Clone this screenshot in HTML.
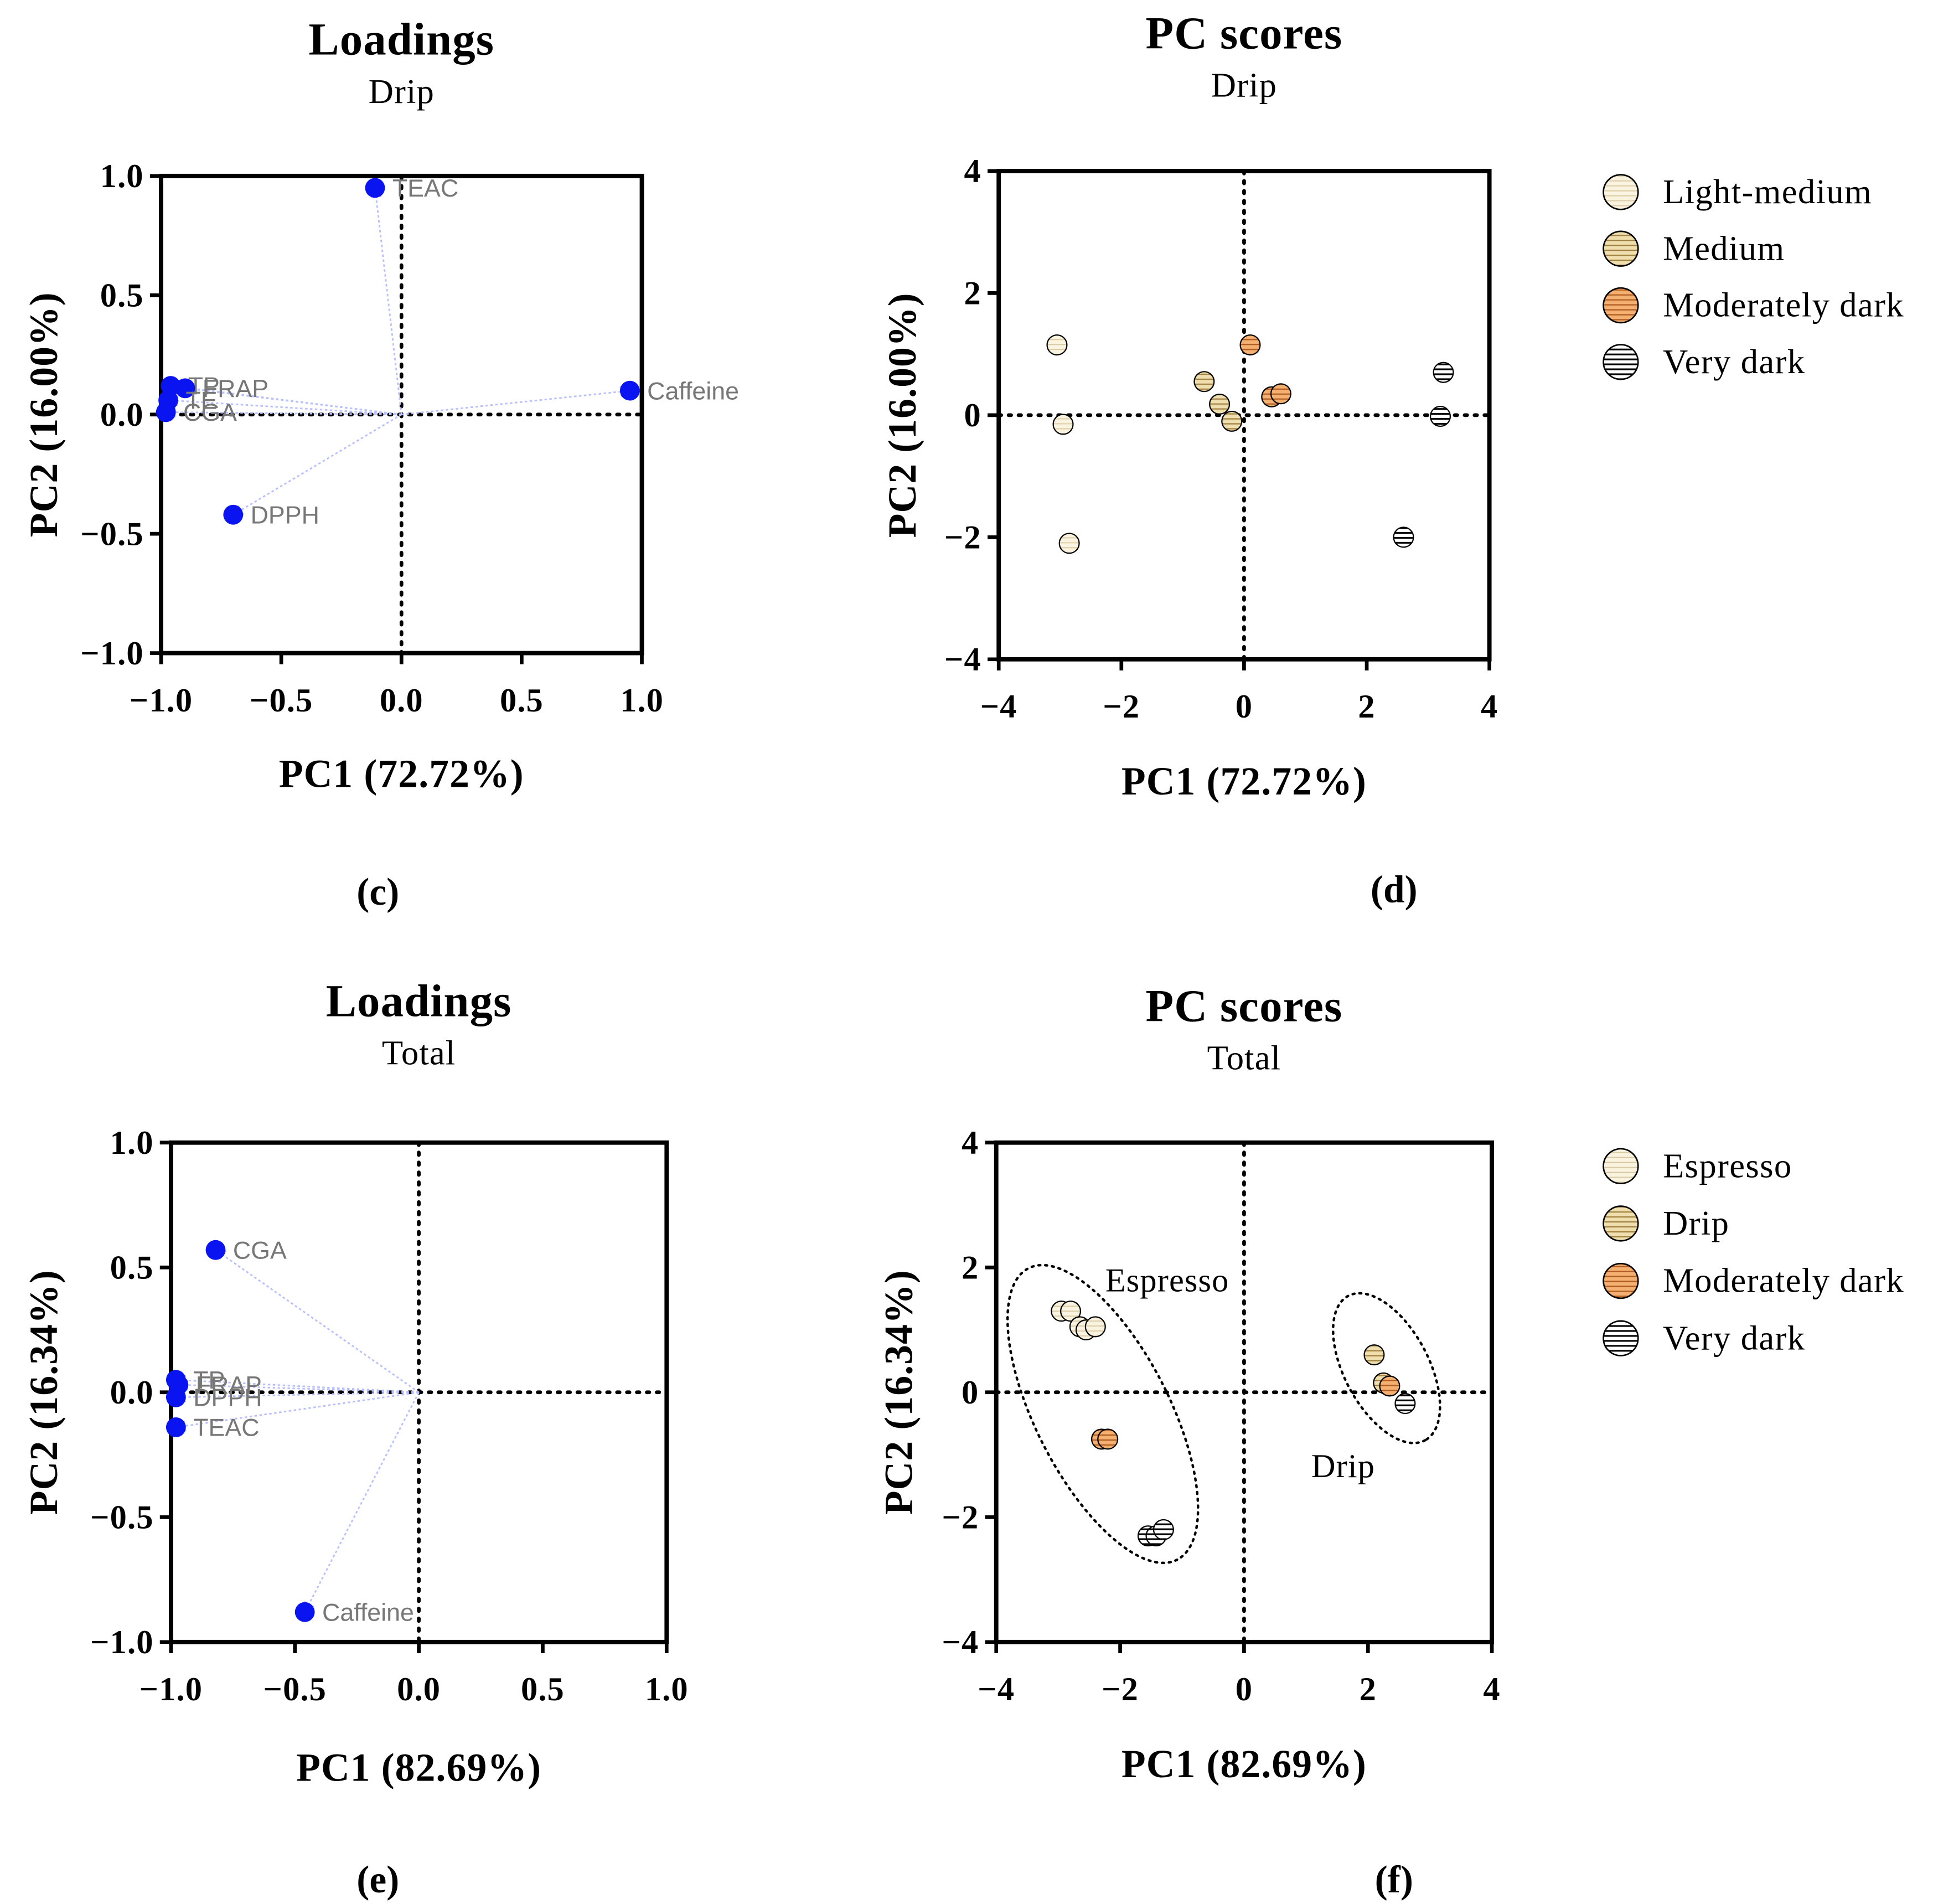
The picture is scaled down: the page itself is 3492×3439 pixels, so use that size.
<!DOCTYPE html>
<html><head><meta charset="utf-8"><style>
html,body{margin:0;padding:0;background:#fff}
svg{display:block}
</style></head><body>
<svg id="fig" width="3492" height="3439" viewBox="0 0 1560 1536.4" preserveAspectRatio="none" xmlns="http://www.w3.org/2000/svg">
<defs>
<pattern id="p-lm" width="4" height="4" patternUnits="userSpaceOnUse"><rect width="4" height="4" fill="#faf3e0"/><line x1="0" y1="2" x2="4" y2="2" stroke="#d8c8a0" stroke-width="0.8"/></pattern>
<pattern id="p-md" width="4" height="4" patternUnits="userSpaceOnUse"><rect width="4" height="4" fill="#f0dfae"/><line x1="0" y1="2" x2="4" y2="2" stroke="#a08040" stroke-width="1"/></pattern>
<pattern id="p-dk" width="4" height="4" patternUnits="userSpaceOnUse"><rect width="4" height="4" fill="#f3b070"/><line x1="0" y1="2" x2="4" y2="2" stroke="#b05a20" stroke-width="1"/></pattern>
<pattern id="p-vd" width="4" height="4" patternUnits="userSpaceOnUse"><rect width="4" height="4" fill="#fff"/><line x1="0" y1="2" x2="4" y2="2" stroke="#000" stroke-width="1.4"/></pattern>
<marker id="arr" markerWidth="8" markerHeight="8" refX="6" refY="4" orient="auto"><path d="M0,1 L6,4 L0,7" fill="none" stroke="#b8c0ff" stroke-width="1"/></marker>
</defs>
</svg>
<script>
// ---- data ----
const loadCNames = ["TEAC","Caffeine","TP","FRAP","TE","CGA","DPPH"];
const loadCX = [-0.11,0.95,-0.96,-0.90,-0.97,-0.98,-0.70];
const loadCY = [0.95,0.10,0.12,0.11,0.06,0.01,-0.42];
const loadENames = ["CGA","TP","FRAP","DPPH","TEAC","Caffeine"];
const loadEX = [-0.82,-0.98,-0.97,-0.98,-0.98,-0.46];
const loadEY = [0.57,0.05,0.03,-0.02,-0.14,-0.88];
const loadTicks = [-1.0,-0.5,0.0,0.5,1.0];
const scoreTicks = [-4,-2,0,2,4];
const scoreDGroup = [0,0,0,1,1,1,2,2,2,3,3,3];
const scoreDX = [-3.05,-2.95,-2.85,-0.65,-0.4,-0.2,0.1,0.45,0.6,3.25,3.2,2.6];
const scoreDY = [1.15,-0.15,-2.1,0.55,0.18,-0.1,1.15,0.3,0.35,0.7,-0.02,-2.0];
const scoreFGroup = [0,0,0,0,0,2,2,3,3,3,1,1,2,3];
const scoreFX = [-2.95,-2.8,-2.65,-2.55,-2.4,-2.3,-2.2,-1.55,-1.42,-1.3,2.1,2.25,2.35,2.6];
const scoreFY = [1.3,1.3,1.05,1.0,1.05,-0.75,-0.75,-2.3,-2.3,-2.2,0.6,0.15,0.1,-0.18];
const legendD = ["Light-medium","Medium","Moderately dark","Very dark"];
const legendF = ["Espresso","Drip","Moderately dark","Very dark"];
const fills = ["url(#p-lm)","url(#p-md)","url(#p-dk)","url(#p-vd)"];

const svg=document.getElementById('fig');
const NS="http://www.w3.org/2000/svg";
function mk(tag,attrs,parent){const e=document.createElementNS(NS,tag);for(const k in attrs)e.setAttribute(k,attrs[k]);(parent||svg).appendChild(e);return e;}
function txt(s,x,y,size,opts,parent){const e=mk('text',Object.assign({x:x,y:y,'font-size':size,'text-anchor':'middle','font-family':'"Liberation Serif",serif'},opts||{}),parent);e.textContent=s;return e;}
function fmt(v,dec){let s=v.toFixed(dec);if(v<0)s='\u2212'+s.slice(1);return s;}

function panel(cfg){
  const g=mk('g',{});
  
  
  const sx=v=>cfg.x0+(v-cfg.min)/(cfg.max-cfg.min)*(cfg.x1-cfg.x0);
  const sy=v=>cfg.y1-(v-cfg.min)/(cfg.max-cfg.min)*(cfg.y1-cfg.y0);
  let t=txt(cfg.title,(cfg.x0+cfg.x1)/2,cfg.titleY+2,37,{'font-weight':'bold','letter-spacing':'0.5'},g);
  
  t=txt(cfg.sub,(cfg.x0+cfg.x1)/2,cfg.titleY+41,28,{'letter-spacing':'0.5'},g);
  
  mk('line',{x1:sx(0),y1:cfg.y0,x2:sx(0),y2:cfg.y1,stroke:'#000','stroke-width':3,'stroke-dasharray':'2 6','stroke-linecap':'round'},g);
  mk('line',{x1:cfg.x0,y1:sy(0),x2:cfg.x1,y2:sy(0),stroke:'#000','stroke-width':3,'stroke-dasharray':'2 6','stroke-linecap':'round'},g);
  const box=mk('rect',{x:cfg.x0,y:cfg.y0,width:cfg.x1-cfg.x0,height:cfg.y1-cfg.y0,fill:'none',stroke:'#000','stroke-width':3.5},g);
  
  cfg.ticks.forEach(v=>{
    mk('line',{x1:sx(v),y1:cfg.y1,x2:sx(v),y2:cfg.y1+9,stroke:'#000','stroke-width':3},g);
    const a=txt(fmt(v,cfg.dec),sx(v),cfg.y1+47,27,{'font-weight':'bold','letter-spacing':'0.5'},g);
    
    mk('line',{x1:cfg.x0-9,y1:sy(v),x2:cfg.x0,y2:sy(v),stroke:'#000','stroke-width':3},g);
    const b=txt(fmt(v,cfg.dec),cfg.x0-14,sy(v)+9,27,{'font-weight':'bold','text-anchor':'end','letter-spacing':'0.5'},g);
    
  });
  t=txt(cfg.xt,(cfg.x0+cfg.x1)/2,cfg.xtY,32,{'font-weight':'bold','letter-spacing':'0.5'},g);
  
  const yc=(cfg.y0+cfg.y1)/2;
  t=txt(cfg.yt,cfg.ytX,yc,32,{'font-weight':'bold','letter-spacing':'0.5',transform:`rotate(-90 ${cfg.ytX} ${yc})`},g);
  
  t=txt(cfg.letter,cfg.letterX,cfg.letterY,31,{'font-weight':'bold'},g);
  
  return {g,sx,sy};
}

function loadings(cfg,names,xs,ys){
  const p=panel(cfg);
  names.forEach((n,i)=>{
    const l=mk('line',{x1:p.sx(0),y1:p.sy(0),x2:p.sx(xs[i]),y2:p.sy(ys[i]),stroke:'#b8c0ff','stroke-width':1.3,'stroke-dasharray':'2 2','marker-end':'url(#arr)'},p.g);
    
    
  });
  names.forEach((n,i)=>{
    const c=mk('circle',{cx:p.sx(xs[i]),cy:p.sy(ys[i]),r:8,fill:'#0a14f0'},p.g);
    
    
    const t=txt(n,p.sx(xs[i])+14,p.sy(ys[i])+7,20,{'text-anchor':'start','font-family':'"Liberation Sans",sans-serif',fill:'#777'},p.g);
    
    
  });
}

function scores(cfg,grp,xs,ys,legend,legX,legY0,legDy){
  const p=panel(cfg);
  xs.forEach((x,i)=>{
    const c=mk('circle',{cx:p.sx(x),cy:p.sy(ys[i]),r:8,fill:fills[grp[i]],stroke:'#000','stroke-width':1},p.g);
    
    
  });
  legend.forEach((s,i)=>{
    const y=legY0+i*legDy;
    const c=mk('circle',{cx:legX,cy:y,r:14,fill:fills[i],stroke:'#000','stroke-width':1.2},p.g);
    
    
    const t=txt(s,legX+34,y+9,28,{'text-anchor':'start','letter-spacing':'0.6'},p.g);
    
    
  });
  return p;
}

loadings({name:'loadings-drip',x0:130,x1:518,y0:142,y1:527,min:-1,max:1,ticks:loadTicks,dec:1,title:'Loadings',sub:'Drip',titleY:42,xt:'PC1 (72.72%)',xtY:635,yt:'PC2 (16.00%)',ytX:46,letter:'(c)',letterX:305,letterY:730},loadCNames,loadCX,loadCY);
scores({name:'scores-drip',x0:806,x1:1202,y0:138,y1:532,min:-4,max:4,ticks:scoreTicks,dec:0,title:'PC scores',sub:'Drip',titleY:37,xt:'PC1 (72.72%)',xtY:641,yt:'PC2 (16.00%)',ytX:739,letter:'(d)',letterX:1125,letterY:728},scoreDGroup,scoreDX,scoreDY,legendD,1308,155,45.7);
loadings({name:'loadings-total',x0:138,x1:538,y0:922,y1:1325,min:-1,max:1,ticks:loadTicks,dec:1,title:'Loadings',sub:'Total',titleY:818,xt:'PC1 (82.69%)',xtY:1437,yt:'PC2 (16.34%)',ytX:46,letter:'(e)',letterX:305,letterY:1527},loadENames,loadEX,loadEY);
const pf=scores({name:'scores-total',x0:804,x1:1204,y0:922,y1:1325,min:-4,max:4,ticks:scoreTicks,dec:0,title:'PC scores',sub:'Total',titleY:822,xt:'PC1 (82.69%)',xtY:1434,yt:'PC2 (16.34%)',ytX:736,letter:'(f)',letterX:1125,letterY:1527},scoreFGroup,scoreFX,scoreFY,legendF,1308,941,46.3);
let e=mk('ellipse',{cx:890,cy:1141,rx:132,ry:54,transform:'rotate(63 890 1141)',fill:'none',stroke:'#000','stroke-width':2,'stroke-dasharray':'1.5 4','stroke-linecap':'round'},pf.g);

e=mk('ellipse',{cx:1119,cy:1104,rx:66,ry:34,transform:'rotate(62 1119 1104)',fill:'none',stroke:'#000','stroke-width':2,'stroke-dasharray':'1.5 4','stroke-linecap':'round'},pf.g);

let tt=txt('Espresso',942,1042,27,{'letter-spacing':'0.5'},pf.g);

tt=txt('Drip',1084,1192,27,{'letter-spacing':'0.5'},pf.g);

</script>
</body></html>
